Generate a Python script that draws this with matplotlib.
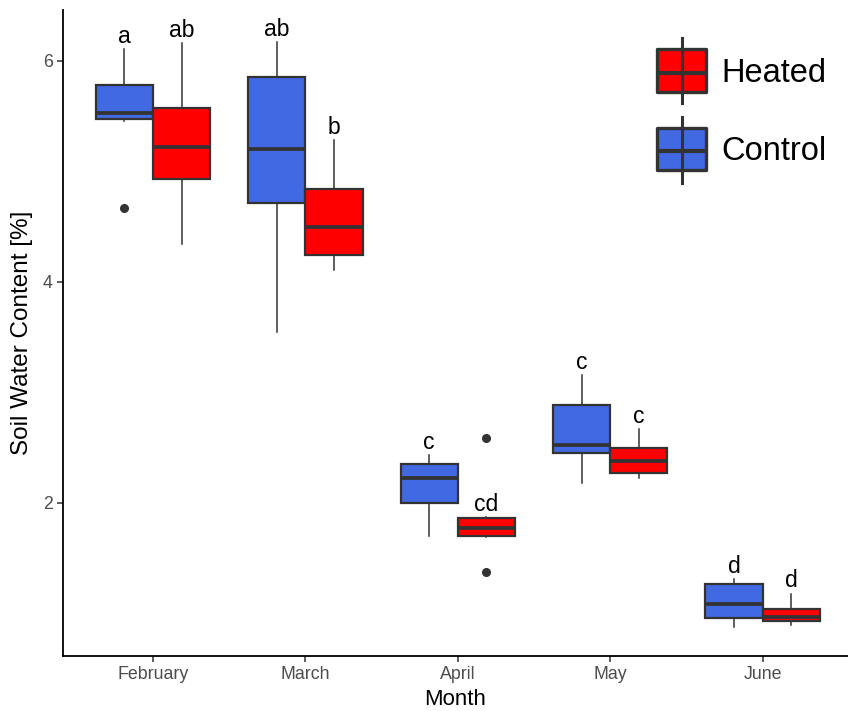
import matplotlib
matplotlib.use('Agg')
import matplotlib.pyplot as plt
from matplotlib.patches import Rectangle
from matplotlib.lines import Line2D

months = ['February', 'March', 'April', 'May', 'June']

# Control plots: whisker ends, quartiles, medians, outliers
control_whislo = [5.46, 3.55, 1.70, 2.18, 0.88]
control_q1 = [5.475, 4.71, 2.00, 2.45, 0.96]
control_med = [5.53, 5.20, 2.23, 2.52, 1.086]
control_q3 = [5.78, 5.855, 2.35, 2.89, 1.27]
control_whishi = [6.11, 6.17, 2.43, 3.16, 1.31]
control_fliers = [[4.67], [], [], [], []]

# Heated plots
heated_whislo = [4.34, 4.11, 1.69, 2.23, 0.90]
heated_q1 = [4.93, 4.24, 1.70, 2.27, 0.93]
heated_med = [5.22, 4.50, 1.775, 2.38, 0.97]
heated_q3 = [5.57, 4.84, 1.864, 2.50, 1.04]
heated_whishi = [6.16, 5.28, 1.87, 2.67, 1.18]
heated_fliers = [[], [], [2.59, 1.376], [], []]

# significance letters
control_letters = ['a', 'ab', 'c', 'c', 'd']
heated_letters = ['ab', 'b', 'cd', 'c', 'd']

blue = '#4169E1'
red = '#FF0000'
edge = '#333333'
tick_grey = '#4D4D4D'


def make_stats(lo, q1, med, q3, hi, fliers):
    stats = []
    for i in range(len(med)):
        stats.append({'whislo': lo[i], 'q1': q1[i], 'med': med[i],
                      'q3': q3[i], 'whishi': hi[i], 'fliers': fliers[i]})
    return stats


def draw_group(ax, stats, positions, color):
    ax.bxp(stats, positions=positions, widths=0.375, patch_artist=True,
           showcaps=False, manage_ticks=False,
           boxprops=dict(facecolor=color, edgecolor=edge, linewidth=1.6),
           medianprops=dict(color=edge, linewidth=2.7, solid_capstyle='butt'),
           whiskerprops=dict(color=edge, linewidth=1.1),
           flierprops=dict(marker='o', markerfacecolor=edge,
                           markeredgecolor=edge, markersize=5.5))


fig = plt.figure(figsize=(8.48, 7.11), dpi=100)
ax = fig.add_axes([63 / 848, 55 / 711, 1 - 63 / 848, 646 / 711])

x = list(range(len(months)))
control_pos = [i - 0.1875 for i in x]
heated_pos = [i + 0.1875 for i in x]

control_stats = make_stats(control_whislo, control_q1, control_med,
                           control_q3, control_whishi, control_fliers)
heated_stats = make_stats(heated_whislo, heated_q1, heated_med,
                          heated_q3, heated_whishi, heated_fliers)
draw_group(ax, control_stats, control_pos, blue)
draw_group(ax, heated_stats, heated_pos, red)

# letters above the upper whiskers
for i in x:
    ax.text(control_pos[i], control_whishi[i] + 0.055, control_letters[i],
            ha='center', va='baseline', fontsize=16.5, family='Liberation Sans')
    ax.text(heated_pos[i], heated_whishi[i] + 0.055, heated_letters[i],
            ha='center', va='baseline', fontsize=16.5, family='Liberation Sans')

ax.set_xlim(-0.59, 4.56)
ax.set_ylim(0.615, 6.46)
ax.set_xticks(x)
ax.set_xticklabels(months)
ax.set_yticks([2, 4, 6])
ax.tick_params(axis='both', colors=edge, length=4, width=1.1,
               labelcolor=tick_grey, labelsize=12.8)
for lab in ax.get_xticklabels() + ax.get_yticklabels():
    lab.set_family('Liberation Sans')

for side in ['top', 'right']:
    ax.spines[side].set_visible(False)
for side in ['left', 'bottom']:
    ax.spines[side].set_color('black')
    ax.spines[side].set_linewidth(1.3)

ax.set_xlabel('Month', fontsize=16, family='Liberation Sans', labelpad=4)
ax.set_ylabel('Soil Water Content [%]', fontsize=17.5,
              family='Liberation Sans', labelpad=7)

# legend drawn in figure pixels
px = fig.transFigure


def legend_entry(top_whisk, box_top, med_y, box_bot, bot_whisk, color, label, text_y):
    xc = 681.5
    fig.add_artist(Line2D([xc / 848, xc / 848],
                          [1 - top_whisk / 711, 1 - bot_whisk / 711],
                          color=edge, linewidth=2.2, transform=px))
    fig.add_artist(Rectangle((657 / 848, 1 - box_bot / 711),
                             49 / 848, (box_bot - box_top) / 711,
                             facecolor=color, edgecolor=edge, linewidth=2.4,
                             transform=px, joinstyle='round'))
    fig.add_artist(Line2D([658 / 848, 705 / 848],
                          [1 - med_y / 711, 1 - med_y / 711],
                          color=edge, linewidth=3.0, transform=px,
                          solid_capstyle='butt'))
    fig.text(721 / 848, 1 - text_y / 711, label, fontsize=23.5,
             family='Liberation Sans', ha='left', va='center')


legend_entry(38, 49, 73, 92, 103, red, 'Heated', 73)
legend_entry(117, 128, 151, 170, 183, blue, 'Control', 151)

fig.savefig('out.png', dpi=100)
plt.close()
